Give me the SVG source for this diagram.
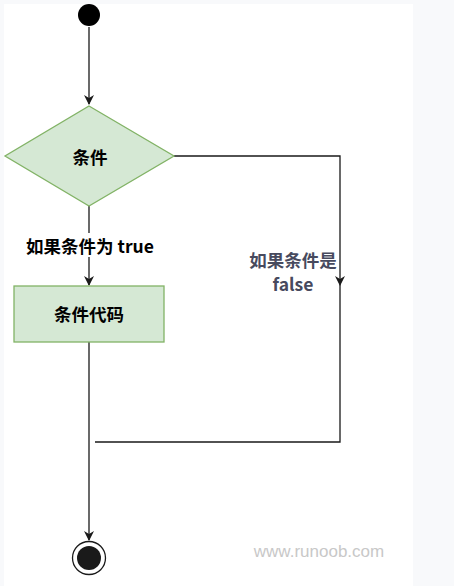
<svg xmlns="http://www.w3.org/2000/svg" width="454" height="586" viewBox="0 0 454 586">
<style>
.edge{fill:none;stroke:#1a1a1a;stroke-width:1.3}
.lbl{font-family:"Noto Sans CJK SC","Liberation Sans",sans-serif;font-weight:bold;font-size:17.5px;text-anchor:middle;dominant-baseline:central}
.shape{fill:#d5e8d4;stroke:#82b366;stroke-width:1.3}
</style>
<defs>
<marker id="arr" viewBox="0 0 10 10" refX="9" refY="5" markerWidth="10" markerHeight="10" markerUnits="userSpaceOnUse" orient="auto">
<path d="M0,0 L10,5 L0,10 L3,5 Z" fill="#1a1a1a"/>
</marker>
</defs>
<rect width="454" height="586" fill="#f8f9fb"/>
<rect x="4" y="4" width="409" height="582" fill="#ffffff"/>
<g id="connectors">
<path class="edge" d="M89,27 V104" marker-end="url(#arr)"/>
<path class="edge" d="M89,206 V285" marker-end="url(#arr)"/>
<path class="edge" d="M174,156 H340 V285" marker-end="url(#arr)"/>
<path class="edge" d="M340,285 V442 H95"/>
<path class="edge" d="M89,342 V540" marker-end="url(#arr)"/>
<rect x="25" y="233" width="130" height="24" fill="#ffffff"/>
<text class="lbl" x="90" y="245" fill="#000">如果条件为 true</text>
<text class="lbl" x="293" y="259.5" fill="#474a5e" font-size="17">如果条件是</text>
<text class="lbl" x="293" y="283" fill="#474a5e" font-size="17" font-family="'Liberation Sans',sans-serif">false</text>
</g>
<g id="start">
<circle cx="89" cy="15" r="11" fill="#000"/>
</g>
<g id="cond">
<polygon class="shape" points="89,106 174,156 89,206 5,156"/>
<text class="lbl" x="90" y="156">条件</text>
</g>
<g id="code">
<rect class="shape" x="14" y="286" width="150" height="56"/>
<text class="lbl" x="89" y="313">条件代码</text>
</g>
<g id="end">
<circle cx="89" cy="558" r="16.5" fill="#fff" stroke="#1a1a1a" stroke-width="1.3"/>
<circle cx="89" cy="558" r="12" fill="#1a1a1a"/>
</g>
<text x="319" y="551" font-family="'Liberation Sans',sans-serif" font-size="17" fill="#c8c8c8" text-anchor="middle" dominant-baseline="central">www.runoob.com</text>
</svg>
